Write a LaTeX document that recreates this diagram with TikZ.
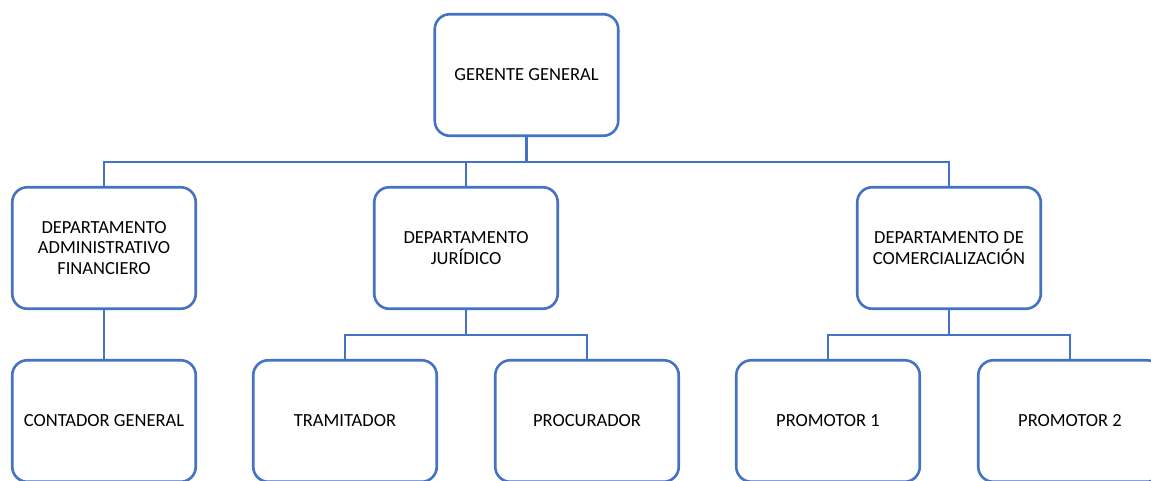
\documentclass[tikz,border=0pt]{standalone}
\usepackage{fontspec}
\setmainfont{Carlito}
\definecolor{orgblue}{RGB}{68,114,196}
\begin{document}
\begin{tikzpicture}[x=1pt,y=-1pt,
  orgbox/.style={draw=orgblue, line width=2.6pt, rounded corners=15pt, fill=white,
    minimum width=183.5pt, minimum height=121.5pt, align=center, inner sep=2pt,
    font=\fontsize{18.5}{20.3}\selectfont},
  conn/.style={draw=orgblue, line width=2.6pt}]
\useasboundingbox (0,0) rectangle (1151,480);
\clip (0,0) rectangle (1151,480);
\node[orgbox] (g) at (526.5,75) {GERENTE GENERAL};
\node[orgbox] (d1) at (104,248) {DEPARTAMENTO\\ADMINISTRATIVO\\FINANCIERO};
\node[orgbox] (d2) at (466,248) {DEPARTAMENTO\\JURÍDICO};
\node[orgbox] (d3) at (949,248) {DEPARTAMENTO DE\\COMERCIALIZACIÓN};
\node[orgbox] (c1) at (104,421) {CONTADOR GENERAL};
\node[orgbox] (t1) at (345,421) {TRAMITADOR};
\node[orgbox] (p1) at (587,421) {PROCURADOR};
\node[orgbox] (m1) at (828,421) {PROMOTOR 1};
\node[orgbox] (m2) at (1070,421) {PROMOTOR 2};
\coordinate (j0) at (526.5,162);
\coordinate (j2) at (466,335);
\coordinate (j3) at (949,335);
\draw[conn] (g.south) -- (j0);
\draw[conn] (d1.north) |- (j0) -| (d3.north);
\draw[conn] (d2.north) -- (d2.north |- j0);
\draw[conn] (d1.south) -- (c1.north);
\draw[conn] (d2.south) -- (j2);
\draw[conn] (t1.north) |- (j2) -| (p1.north);
\draw[conn] (d3.south) -- (j3);
\draw[conn] (m1.north) |- (j3) -| (m2.north);
\end{tikzpicture}
\end{document}
